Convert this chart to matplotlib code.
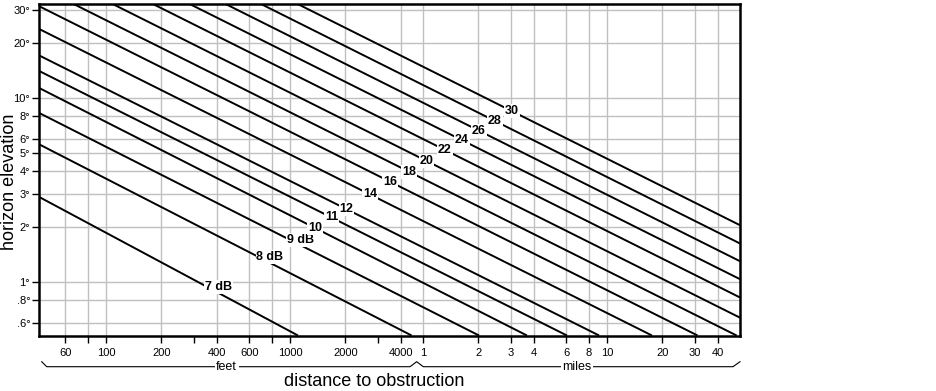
import matplotlib
matplotlib.use("Agg")
import matplotlib.pyplot as plt
from matplotlib.lines import Line2D

plt.rcParams['font.family'] = ['Liberation Sans', 'DejaVu Sans']

FT_PER_MILE = 5280.0

# ---- data ----
line_labels = ["7 dB", "8 dB", "9 dB", "10", "11", "12", "14", "16", "18",
               "20", "22", "24", "26", "28", "30"]
# start point (distance in feet, elevation in degrees)
start_ft = [43, 43, 43, 43, 43, 43, 43, 43, 66.7, 108.7, 180.0, 285.0, 446.7, 695.7, 1101]
start_deg = [2.91, 5.62, 8.32, 11.37, 14.07, 17.09, 23.79, 31.64, 32.4, 32.4, 32.4, 32.4, 32.4, 32.4, 32.4]
# end point
end_ft = [1105, 4581, 10650, 19400, 32000, 47860, 92740, 164100, 267400,
          279100, 279100, 279100, 279100, 279100, 279100]
end_deg = [0.512, 0.512, 0.512, 0.512, 0.512, 0.512, 0.512, 0.512, 0.512,
           0.640, 0.824, 1.036, 1.297, 1.619, 2.035]
# label anchor positions
label_ft = [407.6, 778.5, 1143, 1367, 1685, 2033, 2721, 3495, 4434, 5533,
            6958, 8578, 10650, 13004, 16030]
label_deg = [0.936, 1.362, 1.692, 1.958, 2.264, 2.484, 2.99, 3.509, 3.977,
             4.546, 5.216, 5.909, 6.642, 7.499, 8.50]

feet_ticks = [60, 80, 100, 200, 300, 400, 600, 800, 1000, 2000, 3000, 4000]
feet_tick_labels = ["60", "", "100", "200", "", "400", "600", "", "1000", "2000", "", "4000"]
mile_ticks = [1, 2, 3, 4, 6, 8, 10, 20, 30, 40]
mile_tick_labels = ["1", "2", "3", "4", "6", "8", "10", "20", "30", "40"]
feet_grid = [60, 80, 100, 200, 400, 600, 800, 1000, 2000, 4000]
mile_grid = [1, 2, 3, 4, 6, 8, 10, 20, 30, 40]

deg_ticks = [0.6, 0.8, 1, 2, 3, 4, 5, 6, 8, 10, 20, 30]
deg_tick_labels = [".6°", ".8°", "1°", "2°", "3°", "4°", "5°", "6°", "8°", "10°", "20°", "30°"]

x_range_ft = (42.98, 279100)
y_range_deg = (0.512, 32.4)

# ---- figure ----
W, H = 936, 391
fig = plt.figure(figsize=(W / 100, H / 100), dpi=100)
fig.patch.set_facecolor('white')
L, R, T, B = 38.5, 740, 4, 335.5
ax = fig.add_axes([L / W, 1 - B / H, (R - L) / W, (B - T) / H])
ax.set_xscale('log')
ax.set_yscale('log')
ax.set_xlim(*x_range_ft)
ax.set_ylim(*y_range_deg)

grid_color = '#c0c0c0'
for g in feet_grid + [m * FT_PER_MILE for m in mile_grid]:
    ax.axvline(g, color=grid_color, lw=1.0, zorder=0)
for g in deg_ticks:
    ax.axhline(g, color=grid_color, lw=1.0, zorder=0)

for x0, y0, x1, y1 in zip(start_ft, start_deg, end_ft, end_deg):
    ax.plot([x0, x1], [y0, y1], color='black', lw=1.4, solid_capstyle='butt', zorder=2)

for lab, x, y in zip(line_labels, label_ft, label_deg):
    ax.text(x, y, lab, ha='center', va='center', fontsize=9, fontweight='bold',
            color='black', zorder=3,
            bbox=dict(facecolor='white', edgecolor='none', pad=0.6))

xt = feet_ticks + [m * FT_PER_MILE for m in mile_ticks]
xl = feet_tick_labels + mile_tick_labels
ax.set_xticks(xt)
ax.set_xticklabels(xl)
ax.xaxis.set_minor_locator(matplotlib.ticker.NullLocator())
ax.set_yticks(deg_ticks)
ax.set_yticklabels(deg_tick_labels)
ax.yaxis.set_minor_locator(matplotlib.ticker.NullLocator())
ax.tick_params(axis='x', direction='out', length=5, width=1, color='black',
               labelsize=8, pad=4)
ax.tick_params(axis='y', direction='out', length=5, width=1, color='black',
               labelsize=8, pad=1)
for s in ax.spines.values():
    s.set_linewidth(1.8)
    s.set_color('black')
    s.set_zorder(5)

# axis titles
fig.text(10 / W, 1 - 182 / H, 'horizon elevation', rotation=90, ha='center',
         va='center', fontsize=13)
fig.text(374 / W, 1 - 381 / H, 'distance to obstruction', ha='center',
         va='center', fontsize=13)

# braces for feet / miles
def fig_line(xs, ys):
    fig.add_artist(Line2D([x / W for x in xs], [1 - y / H for y in ys],
                          color='black', lw=0.8))

fig_line([41.7, 46.7, 410, 416.7, 423.3, 733, 740],
         [361.7, 366.7, 366.7, 361.7, 366.7, 366.7, 361.7])
fig.text(226.7 / W, 1 - 366.7 / H, 'feet', ha='center', va='center', fontsize=9,
         bbox=dict(facecolor='white', edgecolor='none', pad=1))
fig.text(576.7 / W, 1 - 366.7 / H, 'miles', ha='center', va='center', fontsize=9,
         bbox=dict(facecolor='white', edgecolor='none', pad=1))

fig.savefig('out.png', dpi=100, facecolor='white')
